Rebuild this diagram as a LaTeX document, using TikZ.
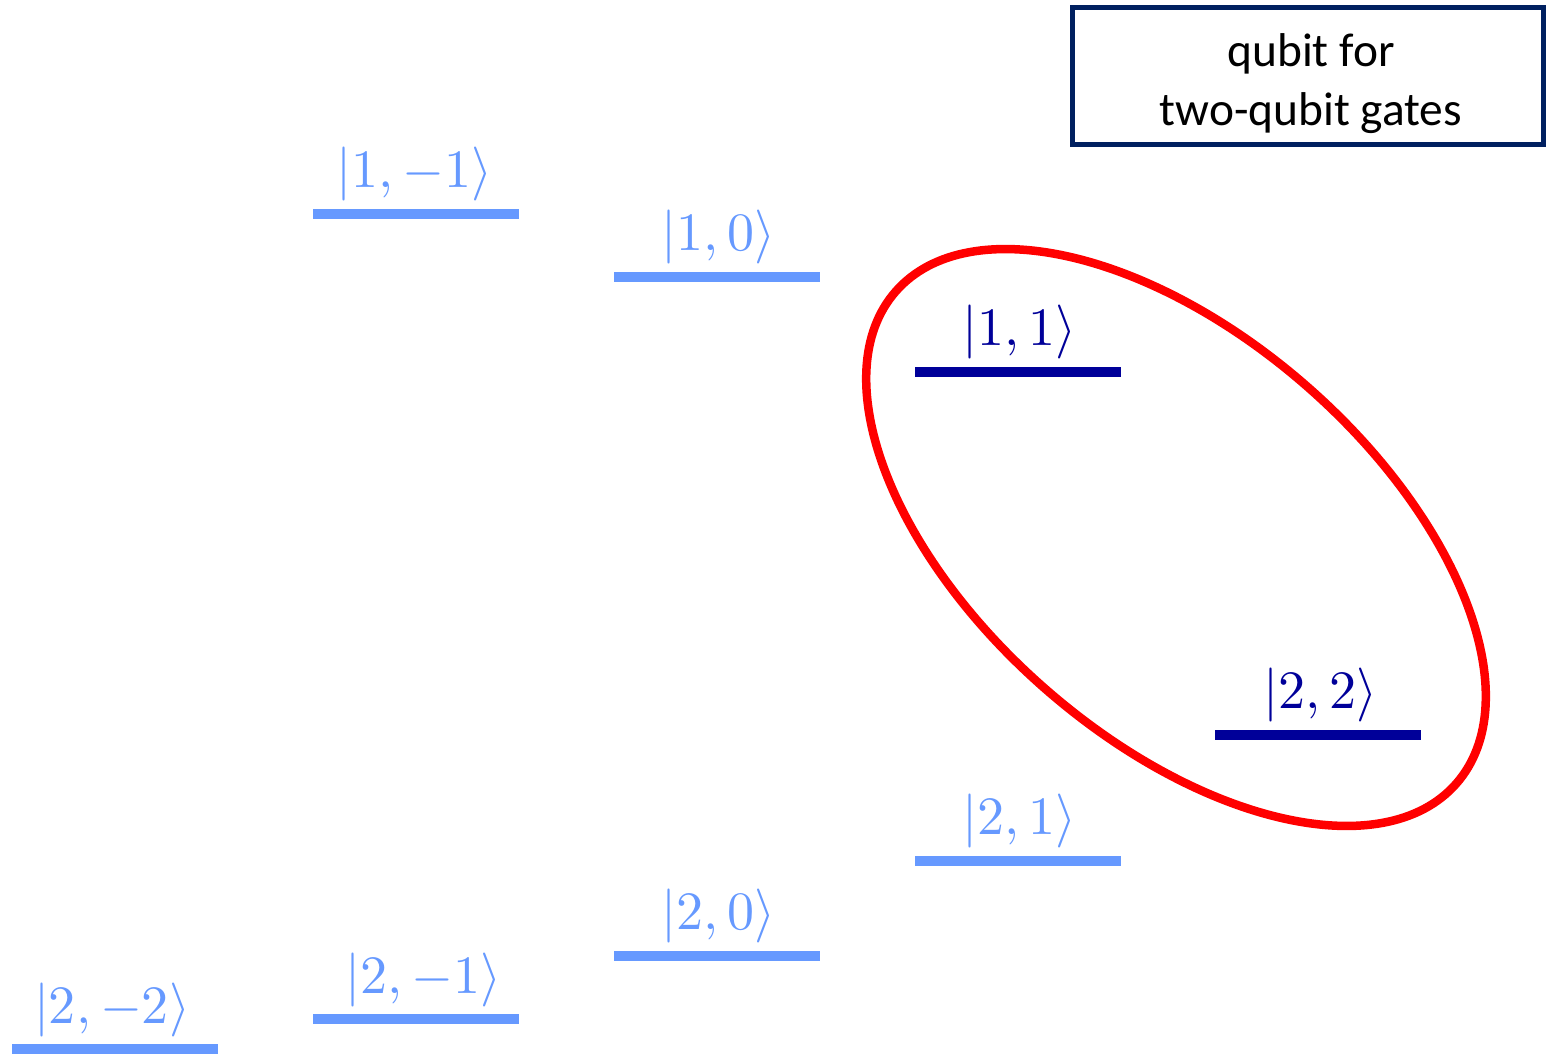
\RequirePackage{fix-cm}
\documentclass[tikz,border=0pt]{standalone}
\usepackage{fontspec}
\newfontfamily\boxfont{Carlito}
\definecolor{lightlvl}{HTML}{6699FF}
\definecolor{darklvl}{HTML}{000099}
\definecolor{boxblue}{HTML}{002060}
\definecolor{ellred}{HTML}{FF0000}
\begin{document}
\begin{tikzpicture}[x=0.5pt,y=-0.5pt,
  lightbar/.style={fill=lightlvl, draw=none, minimum width=103pt, minimum height=4.75pt, inner sep=0pt, outer sep=0pt},
  darkbar/.style={lightbar, fill=darklvl},
  lab/.style={anchor=south, inner sep=0pt, scale=2.7, font=\fontsize{10}{12}\selectfont},
  lightlab/.style={lab, text=lightlvl},
  darklab/.style={lab, text=darklvl},
  qbox/.style={draw=boxblue, line width=2.5pt, minimum width=235.25pt, minimum height=68.5pt, inner sep=0pt},
  qtext/.style={align=center, inner sep=0pt, font=\boxfont\fontsize{23.7}{29.5}\selectfont},
  ring/.style={draw=ellred, line width=4.25pt}
]
\useasboundingbox (0,0) rectangle (1546,1054);
% levels
\node[lightbar] (m2m2) at (115,1049) {};
\node[lightbar] (m2m1) at (416,1019) {};
\node[lightbar] (m20)  at (717,956) {};
\node[lightbar] (m21)  at (1018,861) {};
\node[darkbar]  (m22)  at (1318,735) {};
\node[lightbar] (m1m1) at (416,214) {};
\node[lightbar] (m10)  at (717,277) {};
\node[darkbar]  (m11)  at (1018,372) {};
% labels
\node[lightlab] (l2m2) at (112,1038) {$|2,-2\rangle$};
\node[lightlab] (l2m1) at (423,1008) {$|2,-1\rangle$};
\node[lightlab] (l20)  at (718,944) {$|2,0\rangle$};
\node[lightlab] (l21)  at (1019,849) {$|2,1\rangle$};
\node[darklab]  (l22)  at (1320,723) {$|2,2\rangle$};
\node[lightlab] (l1m1) at (414,202) {$|1,-1\rangle$};
\node[lightlab] (l10)  at (718,265) {$|1,0\rangle$};
\node[darklab]  (l11)  at (1019,360) {$|1,1\rangle$};
% ring
\draw[ring] (1176,537.5) ellipse [x radius=186.5pt, y radius=100pt, rotate=-41.3];
% box
\node[qbox] (box) at (1307.75,76) {};
\node[qtext] (boxtext) at (1311,84) {qubit for\\two-qubit gates};
\end{tikzpicture}
\end{document}
